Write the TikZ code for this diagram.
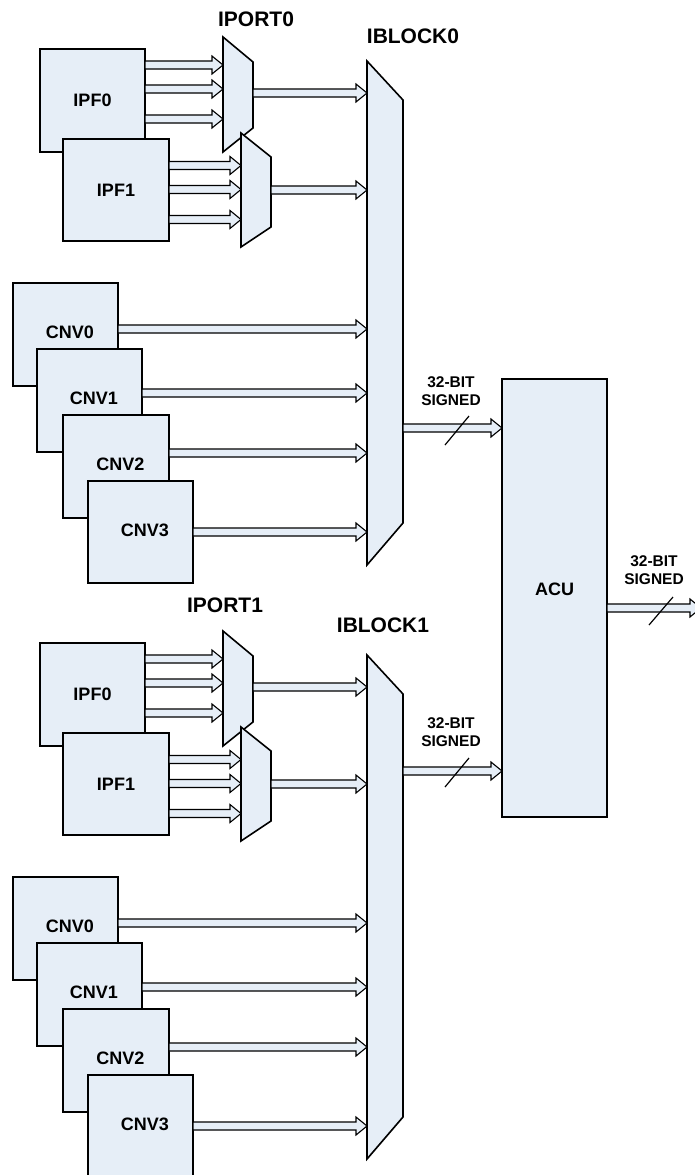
\documentclass[tikz,border=0pt]{standalone}
\usepackage{fontspec}
\setmainfont{Liberation Sans}
\usetikzlibrary{calc}
\definecolor{boxfill}{RGB}{230,238,247}
\tikzset{
  blk/.style={draw=black, fill=boxfill, line width=1.6pt, inner sep=0pt, outer sep=0pt},
  lbl/.style={font=\fontsize{18}{20}\selectfont\bfseries, inner sep=0pt},
  ttl/.style={font=\fontsize{21}{24}\selectfont\bfseries, inner sep=0pt},
  wid/.style={font=\fontsize{15.5}{18}\selectfont\bfseries, align=center, inner sep=0pt},
  fa/.style={draw=black, fill=boxfill, line width=1.1pt, line join=miter},
  muxbox/.style={inner sep=0pt, outer sep=0pt},
  muxshape/.style={draw=black, fill=boxfill, line width=1.6pt, line join=miter},
  slash/.style={draw=black, line width=1.2pt},
}
% #1 = y of the arrow, #2 = start anchor, #3 = end anchor
\newcommand\farrow[3]{%
  \path[fa] let \p1=(#2 |- 0,#1), \p2=(#3 |- 0,#1) in
    (\x1,\y1+4pt) -- (\x2-11pt,\y1+4pt) -- (\x2-11pt,\y1+9pt) -- (\x2,\y1)
    -- (\x2-11pt,\y1-9pt) -- (\x2-11pt,\y1-4pt) -- (\x1,\y1-4pt) -- cycle;
}
\begin{document}
\begin{tikzpicture}[x=1pt,y=-1pt]
\useasboundingbox (0,0) rectangle (695,1175);
\fill[white] (0,0) rectangle (695,1175);

\foreach \s/\o in {0/0,1/594}{
  % input feature boxes
  \node[blk, minimum width=105, minimum height=103, lbl] (ipf0\s) at (92.5,100.5+\o) {IPF0};
  \node[blk, minimum width=106, minimum height=102, lbl] (ipf1\s) at (116,190+\o) {IPF1};
  % port muxes
  \node[muxbox, minimum width=30, minimum height=115] (mxa\s) at (238,94.5+\o) {};
  \draw[muxshape] (mxa\s.north west) -- ($(mxa\s.north east)+(0,25)$) -- ($(mxa\s.south east)+(0,-24)$) -- (mxa\s.south west) -- cycle;
  \node[muxbox, minimum width=30, minimum height=114] (mxb\s) at (256,190+\o) {};
  \draw[muxshape] (mxb\s.north west) -- ($(mxb\s.north east)+(0,24)$) -- ($(mxb\s.south east)+(0,-20)$) -- (mxb\s.south west) -- cycle;
  % convolution boxes
  \node[blk, minimum width=105, minimum height=103, label={[lbl,xshift=4.5pt,yshift=2.5pt]center:CNV0}] (cnv0\s) at (65.5,334.5+\o) {};
  \node[blk, minimum width=105, minimum height=103, label={[lbl,xshift=4.5pt,yshift=2.5pt]center:CNV1}] (cnv1\s) at (89.5,400.5+\o) {};
  \node[blk, minimum width=106, minimum height=103, label={[lbl,xshift=4.5pt,yshift=2.5pt]center:CNV2}] (cnv2\s) at (116,466.5+\o) {};
  \node[blk, minimum width=105, minimum height=102, label={[lbl,xshift=4.5pt,yshift=2pt]center:CNV3}] (cnv3\s) at (140.5,532+\o) {};
  % input block mux
  \node[muxbox, minimum width=36, minimum height=504] (ib\s) at (385,313+\o) {};
  \draw[muxshape] (ib\s.north west) -- ($(ib\s.north east)+(0,39)$) -- ($(ib\s.south east)+(0,-42)$) -- (ib\s.south west) -- cycle;
  % arrows
  \farrow{65+\o}{ipf0\s.east}{mxa\s.west}
  \farrow{89+\o}{ipf0\s.east}{mxa\s.west}
  \farrow{119+\o}{ipf0\s.east}{mxa\s.west}
  \farrow{165.5+\o}{ipf1\s.east}{mxb\s.west}
  \farrow{189.5+\o}{ipf1\s.east}{mxb\s.west}
  \farrow{219.5+\o}{ipf1\s.east}{mxb\s.west}
  \farrow{93+\o}{mxa\s.east}{ib\s.west}
  \farrow{190+\o}{mxb\s.east}{ib\s.west}
  \farrow{329+\o}{cnv0\s.east}{ib\s.west}
  \farrow{393+\o}{cnv1\s.east}{ib\s.west}
  \farrow{453+\o}{cnv2\s.east}{ib\s.west}
  \farrow{532+\o}{cnv3\s.east}{ib\s.west}
}

% titles
\node[ttl] (tport0) at (256,19.5) {IPORT0};
\node[ttl] (tblk0) at (413,36) {IBLOCK0};
\node[ttl] (tport1) at (225,605.5) {IPORT1};
\node[ttl] (tblk1) at (383,625) {IBLOCK1};

% accumulator
\node[blk, minimum width=105, minimum height=438, label={[lbl,yshift=9pt]center:ACU}] (acu) at (554.5,598) {};
\coordinate (out) at (701,608);

\farrow{428}{ib0.east}{acu.west}
\farrow{771}{ib1.east}{acu.west}
\farrow{608}{acu.east}{out}

\node[wid] (w0) at (451,391) {32-BIT\\SIGNED};
\node[wid] (w1) at (451,732.5) {32-BIT\\SIGNED};
\node[wid] (w2) at (654,570) {32-BIT\\SIGNED};
\draw[slash] (445,445) -- (469,416);
\draw[slash] (445,787) -- (469,758);
\draw[slash] (649,625) -- (673,597);
\end{tikzpicture}
\end{document}
